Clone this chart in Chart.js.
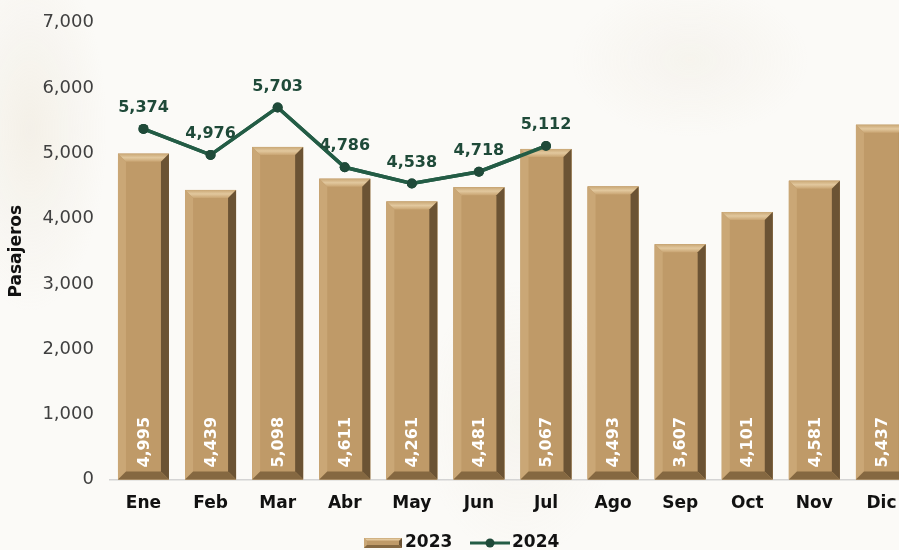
<!DOCTYPE html>
<html>
<head>
<meta charset="UTF-8" />
<title>Pasajeros</title>
<script src="https://cdn.jsdelivr.net/npm/chart.js@4"></script>
<style>
	html, body { margin: 0; padding: 0; overflow: hidden; }
	body {
		width: 899px; height: 550px;
		background-color: #fbfaf7;
		background-image:
			radial-gradient(ellipse 110px 260px at 30px 130px, rgba(214,200,172,0.20), transparent 70%),
			radial-gradient(ellipse 170px 110px at 690px 60px, rgba(214,200,172,0.13), transparent 70%),
			radial-gradient(ellipse 140px 200px at 520px 420px, rgba(214,200,172,0.12), transparent 70%);
	}
	.chart { position: absolute; left: 0; top: -4px; width: 920px; height: 554px; }
</style>
</head>
<body>
<div class="chart"><canvas id="pasChart"></canvas></div>
<script>
// meses
var meses = ['Ene', 'Feb', 'Mar', 'Abr', 'May', 'Jun', 'Jul', 'Ago', 'Sep', 'Oct', 'Nov', 'Dic'];
// pasajeros 2023
var datos2023 = [4995, 4439, 5098, 4611, 4261, 4481, 5067, 4493, 3607, 4101, 4581, 5437];
// pasajeros 2024 (hasta julio)
var datos2024 = [5374, 4976, 5703, 4786, 4538, 4718, 5112, null, null, null, null, null];

var FONT = "'DejaVu Sans', sans-serif";
var TAN = '#bf9a68';
var VERDE = '#235c45';

function fmt(v) { return v.toLocaleString('en-US'); }

// caja con bisel (barras y leyenda)
function bisel(ctx, l, t, r, b, s) {
	ctx.save();
	ctx.fillStyle = TAN;
	ctx.fillRect(l, t, r - l, b - t);
	// arriba
	var g = ctx.createLinearGradient(0, t, 0, t + s);
	g.addColorStop(0, '#c9a775');
	g.addColorStop(0.5, '#e2c89e');
	g.addColorStop(1, '#c9a573');
	ctx.fillStyle = g;
	ctx.beginPath(); ctx.moveTo(l, t); ctx.lineTo(r, t); ctx.lineTo(r - s, t + s); ctx.lineTo(l + s, t + s); ctx.closePath(); ctx.fill();
	// izquierda
	ctx.fillStyle = '#caa776';
	ctx.beginPath(); ctx.moveTo(l, t); ctx.lineTo(l + s, t + s); ctx.lineTo(l + s, b - s); ctx.lineTo(l, b); ctx.closePath(); ctx.fill();
	// derecha
	ctx.fillStyle = '#6b5334';
	ctx.beginPath(); ctx.moveTo(r, t); ctx.lineTo(r, b); ctx.lineTo(r - s, b - s); ctx.lineTo(r - s, t + s); ctx.closePath(); ctx.fill();
	// abajo
	ctx.fillStyle = '#856841';
	ctx.beginPath(); ctx.moveTo(l, b); ctx.lineTo(r, b); ctx.lineTo(r - s, b - s); ctx.lineTo(l + s, b - s); ctx.closePath(); ctx.fill();
	ctx.restore();
}

var biselPlugin = {
	id: 'bisel',
	afterDatasetsDraw: function (chart) {
		var ctx = chart.ctx;
		var barras = chart.getDatasetMeta(0).data;
		barras.forEach(function (bar, i) {
			var p = bar.getProps(['x', 'y', 'base', 'width'], true);
			bisel(ctx, p.x - p.width / 2, p.y, p.x + p.width / 2, p.base, 8);
			// etiqueta blanca vertical
			ctx.save();
			ctx.translate(p.x, p.base - 12);
			ctx.rotate(-Math.PI / 2);
			ctx.fillStyle = '#ffffff';
			ctx.font = 'bold 16px ' + FONT;
			ctx.textAlign = 'left';
			ctx.textBaseline = 'middle';
			ctx.fillText(fmt(datos2023[i]), 0, 1);
			ctx.restore();
		});
		// linea 2024 encima de las barras
		var lm = chart.getDatasetMeta(1);
		lm.controller.draw();
		ctx.save();
		ctx.fillStyle = '#1f4a39';
		ctx.font = 'bold 16px ' + FONT;
		ctx.textAlign = 'center';
		ctx.textBaseline = 'bottom';
		lm.data.forEach(function (pt, i) {
			if (datos2024[i] == null) return;
			ctx.fillText(fmt(datos2024[i]), pt.x, pt.y - 13);
		});
		ctx.restore();
	},
	afterDraw: function (chart) {
		// leyenda
		var ctx = chart.ctx;
		var y = 547;
		ctx.save();
		bisel(ctx, 364, y - 5, 402, y + 5, 3);
		ctx.fillStyle = '#111111';
		ctx.font = 'bold 17px ' + FONT;
		ctx.textAlign = 'left';
		ctx.textBaseline = 'middle';
		ctx.fillText('2023', 405, y);
		ctx.strokeStyle = VERDE;
		ctx.lineWidth = 3;
		ctx.beginPath(); ctx.moveTo(470, y); ctx.lineTo(510, y); ctx.stroke();
		ctx.fillStyle = '#1f4a39';
		ctx.beginPath(); ctx.arc(490, y, 4.5, 0, Math.PI * 2); ctx.fill();
		ctx.fillStyle = '#111111';
		ctx.fillText('2024', 512, y);
		ctx.restore();
	}
};

new Chart(document.getElementById('pasChart'), {
	data: {
		labels: meses,
		datasets: [{
			type: 'bar',
			label: '2023',
			data: datos2023,
			backgroundColor: TAN,
			barPercentage: 0.76,
			categoryPercentage: 1,
			order: 2
		}, {
			type: 'line',
			label: '2024',
			data: datos2024,
			borderColor: VERDE,
			backgroundColor: '#1f4a39',
			borderWidth: 3.5,
			pointRadius: 5,
			pointBackgroundColor: '#1f4a39',
			pointBorderWidth: 0,
			tension: 0,
			order: 1
		}]
	},
	options: {
		responsive: true,
		maintainAspectRatio: false,
		animation: false,
		layout: { padding: { top: 2, right: 5, bottom: 22, left: 6 } },
		plugins: {
			legend: { display: false },
			tooltip: { enabled: false }
		},
		scales: {
			x: {
				grid: { display: false, drawTicks: false },
				border: { color: '#d4d4d4', width: 1.5 },
				ticks: { color: '#111111', font: { family: FONT, size: 17, weight: 'bold' }, padding: 14 }
			},
			y: {
				min: 0, max: 7000,
				grid: { display: false, drawTicks: false },
				border: { display: false },
				ticks: {
					stepSize: 1000,
					color: '#404040',
					padding: 16,
					font: { family: FONT, size: 18 },
					callback: function (v) { return fmt(v); }
				},
				title: { display: true, text: 'Pasajeros', color: '#111111', font: { family: FONT, size: 17, weight: 'bold' }, padding: 0 }
			}
		}
	},
	plugins: [biselPlugin]
});
</script>
</body>
</html>
